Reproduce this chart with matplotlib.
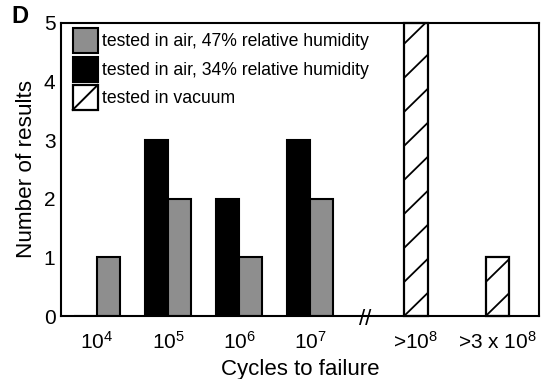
import numpy as np
import matplotlib
matplotlib.use('Agg')
from matplotlib import pyplot as plt
from matplotlib.patches import Patch, Rectangle
from matplotlib.lines import Line2D
from matplotlib.legend_handler import HandlerBase
from matplotlib import transforms

plt.rcParams['font.family'] = 'Liberation Sans'
plt.rcParams['mathtext.fontset'] = 'custom'
plt.rcParams['mathtext.rm'] = 'Liberation Sans'
plt.rcParams['mathtext.default'] = 'regular'

# cycles-to-failure bins and counts
tick_labels = ['$10^4$', '$10^5$', '$10^6$', '$10^7$', '>$10^8$', '>3 x $10^8$']
air_47 = [1, 2, 1, 2]       # grey, 47% RH
air_34 = [0, 3, 2, 3]       # black, 34% RH
vacuum = [5, 1]             # hatched, tested in vacuum

pos = np.array([0, 1, 2, 3, 4.49, 5.64])
w = 0.33
grey = '#8e8e8e'


class HandlerDiag(HandlerBase):
    # open square with one diagonal, like the hatched bars
    def create_artists(self, legend, orig_handle, xdescent, ydescent,
                       width, height, fontsize, trans):
        x0, y0 = -xdescent, -ydescent
        r = Rectangle((x0, y0), width, height, fc='white', ec='black',
                      lw=1.6, transform=trans)
        l = Line2D([x0, x0 + width], [y0, y0 + height], color='black',
                   lw=1.4, transform=trans)
        return [r, l]


fig = plt.figure(figsize=(5.45, 3.79), dpi=100)
ax = fig.add_axes([61/545, 1 - 316/379, (539 - 61)/545, (316 - 22.7)/379])

ax.bar(pos[:4], air_34, width=-w, align='edge', color='black',
       edgecolor='black', lw=1.5)
ax.bar(pos[:4], air_47, width=w, align='edge', color=grey,
       edgecolor='black', lw=1.5)
vac = ax.bar(pos[4:], vacuum, width=w, color='white', edgecolor='black',
             lw=1.6, clip_on=False)

# sparse diagonal hatching drawn by hand
sp, rise = 0.58, 0.39
for rect in vac:
    x0, h = rect.get_x(), rect.get_height()
    for k in range(int(h / sp) + 2):
        ln, = ax.plot([x0, x0 + w], [k*sp, k*sp + rise], color='black', lw=1.3)
        ln.set_clip_path(rect)

ax.set_xlim(-0.507, 6.225)
ax.set_ylim(0, 5)
ax.set_xticks(pos)
ax.set_xticklabels(tick_labels, fontsize=15)
ax.set_yticks(range(6))
ax.tick_params(axis='both', length=0, labelsize=15)
ax.tick_params(axis='x', pad=10.5)
ax.tick_params(axis='y', pad=4)
for s in ax.spines.values():
    s.set_linewidth(1.5)

ax.set_xlabel('Cycles to failure', fontsize=16, labelpad=5)
ax.set_ylabel('Number of results', fontsize=16.2, labelpad=5)

# axis break mark
trans = transforms.blended_transform_factory(ax.transData, ax.transAxes)
ax.text(3.77, -0.012, '//', transform=trans, ha='center', va='center',
        fontsize=16, clip_on=False)

handles = [Patch(fc=grey, ec='black', lw=1.5),
           Patch(fc='black', ec='black', lw=1.5),
           Patch(fc='white', ec='black')]
labels = ['tested in air, 47% relative humidity',
          'tested in air, 34% relative humidity',
          'tested in vacuum']
ax.legend(handles, labels, loc='upper left',
          bbox_to_anchor=(72.7/545, 1 - 28.3/379), bbox_transform=fig.transFigure,
          frameon=False, fontsize=12.7, handlelength=1.42, handleheight=1.8,
          handletextpad=0.25, labelspacing=0.19, borderpad=0, borderaxespad=0,
          handler_map={handles[2]: HandlerDiag()})

fig.text(11.5/545, 1 - 16.7/379, 'D', fontsize=17, fontweight='bold', va='center')

fig.savefig('out.png', dpi=100)
